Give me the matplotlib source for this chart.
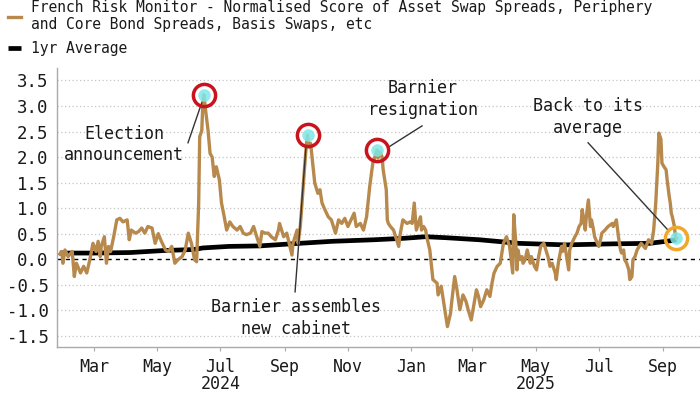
import matplotlib
matplotlib.use("Agg")
import matplotlib.pyplot as plt
import matplotlib.dates as mdates
import numpy as np
import pandas as pd

plt.rcParams['font.family'] = ['DejaVu Sans Mono', 'DejaVu Sans']

BASE = pd.Timestamp("2024-03-01")

# gold series: days after 1 Mar 2024, normalised score
risk_day = [-33, -31, -30, -28, -25, -21, -19, -17, -13, -10, -7, -4, -1, 2, 4, 6, 7, 10, 12, 14,
            16, 19, 22, 25, 28, 32, 34, 36, 40, 43, 46, 49, 52, 56, 59, 62, 65, 69, 72, 75,
            78, 81, 85, 88, 91, 94, 97, 99, 101, 102, 104, 105, 106, 108, 110, 112, 114, 116, 118, 121,
            123, 125, 128, 131, 134, 138, 141, 144, 147, 151, 154, 157, 160, 162, 165, 168, 171, 175, 178, 179,
            183, 186, 189, 191, 192, 196, 197, 199, 200, 203, 205, 206, 207, 209, 211, 213, 216, 218, 220, 223,
            226, 229, 233, 236, 239, 242, 245, 248, 251, 253, 257, 260, 263, 266, 269, 271, 273, 274, 276, 278,
            279, 281, 282, 283, 284, 286, 289, 291, 294, 295, 298, 302, 305, 307, 309, 311, 313, 315, 316, 318,
            320, 321, 324, 327, 331, 332, 335, 337, 339, 341, 344, 345, 348, 350, 353, 356, 359, 361, 364, 367,
            369, 371, 373, 376, 379, 382, 384, 386, 389, 392, 395, 398, 401, 404, 405, 407, 408, 409, 411, 413,
            414, 416, 418, 421, 422, 425, 427, 429, 431, 434, 436, 438, 440, 442, 445, 446, 448, 451, 452, 454,
            456, 458, 459, 461, 464, 466, 468, 470, 471, 473, 474, 475, 477, 479, 480, 482, 483, 487, 488, 490,
            493, 496, 500, 501, 504, 506, 508, 509, 511, 512, 514, 516, 517, 519, 520, 522, 524, 526, 528, 532,
            535, 538, 540, 542, 544, 545, 547, 548, 550, 552, 553, 555, 556, 557, 558, 560, 561, 562]
risk_val = [0.10, 0.15, -0.08, 0.18, 0.05, 0.15, -0.34, -0.08, -0.27, -0.14, -0.27, -0.01, 0.31, 0.15, 0.35, 0.05, 0.25, 0.44, -0.08, 0.25,
            0.15, 0.44, 0.77, 0.80, 0.73, 0.77, 0.38, 0.57, 0.51, 0.54, 0.61, 0.51, 0.64, 0.61, 0.31, 0.50, 0.35, 0.18, 0.15, 0.25,
            -0.08, -0.01, 0.05, 0.18, 0.51, 0.31, -0.01, -0.05, 1.10, 2.40, 2.52, 3.05, 3.22, 2.86, 2.53, 2.07, 2.00, 1.62, 1.81, 1.55,
            1.10, 0.90, 0.57, 0.73, 0.64, 0.57, 0.64, 0.51, 0.48, 0.51, 0.64, 0.44, 0.25, 0.54, 0.51, 0.51, 0.44, 0.38, 0.57, 0.70,
            0.44, 0.51, 0.25, 0.08, 0.31, 0.57, 0.31, 0.64, 0.90, 1.75, 2.27, 2.43, 2.20, 2.27, 1.88, 1.49, 1.29, 1.36, 1.10, 0.96,
            0.83, 0.77, 0.51, 0.77, 0.70, 0.80, 0.64, 0.77, 0.90, 0.64, 0.70, 0.57, 0.83, 1.42, 1.88, 2.00, 2.14, 1.98, 2.10, 2.00,
            1.75, 1.49, 1.36, 0.77, 0.70, 0.64, 0.57, 0.44, 0.25, 0.44, 0.77, 0.70, 0.73, 0.70, 1.10, 0.57, 0.70, 0.83, 0.57, 0.64,
            0.57, 0.44, 0.18, -0.40, -0.47, -0.70, -0.53, -0.80, -1.06, -1.32, -1.06, -0.86, -0.34, -0.57, -0.99, -0.70, -0.83, -0.99, -1.19, -0.83,
            -0.60, -0.73, -0.93, -0.80, -0.60, -0.73, -0.47, -0.27, -0.14, -0.08, 0.31, 0.44, 0.25, -0.27, 0.87, 0.31, -0.21, 0.18, -0.01, 0.05,
            -0.08, -0.01, 0.18, -0.08, 0.05, -0.14, -0.21, 0.05, 0.25, 0.31, 0.18, 0.05, -0.14, -0.08, -0.27, -0.40, -0.08, 0.25, 0.15, 0.31,
            0.05, -0.21, 0.18, 0.31, 0.44, 0.51, 0.64, 0.70, 0.97, 0.70, 0.57, 0.83, 1.16, 0.64, 0.77, 0.57, 0.44, 0.25, 0.31, 0.51,
            0.57, 0.64, 0.70, 0.64, 0.77, 0.44, 0.18, 0.12, 0.18, -0.01, -0.08, -0.21, -0.40, -0.34, -0.01, 0.05, 0.18, 0.25, 0.31, 0.21,
            0.38, 0.31, 0.57, 1.10, 1.88, 2.47, 2.35, 1.88, 1.81, 1.75, 1.55, 1.23, 1.10, 0.90, 0.83, 0.64, 0.44, 0.41]

# 1yr average
avg_day = [-33, 0, 35, 68, 97, 105, 130, 160, 190, 230, 270, 300, 320, 340, 372, 410, 455, 500, 536, 556, 562]
avg_val = [0.12, 0.12, 0.13, 0.17, 0.19, 0.22, 0.25, 0.26, 0.30, 0.35, 0.38, 0.41, 0.44, 0.42, 0.38, 0.31, 0.28, 0.30, 0.31, 0.36, 0.38]

# events circled on the chart
event_day = [106, 206, 273, 562]
event_ring = ['#c8141e', '#c8141e', '#c8141e', '#f0a82c']

GOLD = '#b8894c'
TXT = '#1a1a1a'


def to_dates(days):
    return BASE + pd.to_timedelta(np.array(days), unit="D")


def dnum(d):
    return mdates.date2num(BASE + pd.Timedelta(days=d))


risk_dates = to_dates(risk_day)
avg_dates = to_dates(avg_day)

fig = plt.figure(figsize=(7, 3.94), dpi=100)
ax = fig.add_axes([57 / 700, 1 - 347 / 394, 1 - 57 / 700, (347 - 67.7) / 394])

ax.plot(avg_dates, avg_val, color='black', lw=3.4, solid_capstyle='butt', zorder=3, label='1yr Average')
ax.plot(risk_dates, risk_val, color=GOLD, lw=2.4, zorder=4,
        label='French Risk Monitor - Normalised Score of Asset Swap Spreads, Periphery\nand Core Bond Spreads, Basis Swaps, etc')

ax.axhline(0, color='black', lw=1, ls=(0, (3, 3)), zorder=2)
for yv in np.arange(-1.5, 3.51, 0.5):
    if abs(yv) > 1e-9:
        ax.axhline(yv, color='#c4c4c4', lw=0.9, ls=(0, (1, 2)), zorder=1)

# circles on the events
risk_lookup = dict(zip(risk_day, risk_val))
for d, col in zip(event_day, event_ring):
    v = risk_lookup[d]
    ax.plot([dnum(d)], [v], marker='o', ms=9, color='#7fe8e8', alpha=0.85, zorder=5, mew=0)
    ax.plot([dnum(d)], [v], marker='o', ms=16, mfc='none', mec=col, mew=2.5, zorder=6)

# annotation lines and labels
line_kw = dict(color='#333333', lw=1.0, zorder=5)
ax.plot([dnum(103.9), dnum(90.7)], [3.06, 2.28], **line_kw)
ax.plot([dnum(204.5), dnum(194)], [2.20, -0.64], **line_kw)
ax.plot([dnum(284.6), dnum(316.5)], [2.20, 2.61], **line_kw)
ax.plot([dnum(476.7), dnum(553.8)], [2.28, 0.57], **line_kw)

tkw = dict(fontsize=12, color=TXT, ha='center', va='center', linespacing=1.25, zorder=7)
ax.text(dnum(28.9), 2.25, 'Election\nannouncement', **tkw)
ax.text(dnum(195), -1.15, 'Barnier assembles\nnew cabinet', **tkw)
ax.text(dnum(317.4), 3.14, 'Barnier\nresignation', **tkw)
ax.text(dnum(476.7), 2.78, 'Back to its\naverage', **tkw)

ax.set_ylim(-1.72, 3.75)
ax.set_xlim(dnum(-35.7), dnum(584.7))
ax.set_yticks(np.arange(-1.5, 3.51, 0.5))
ax.set_yticklabels([f'{v:.1f}' for v in np.arange(-1.5, 3.51, 0.5)])

ax.xaxis.set_major_locator(mdates.MonthLocator(bymonth=[1, 3, 5, 7, 9, 11]))
ax.xaxis.set_major_formatter(mdates.DateFormatter('%b'))

ax.tick_params(axis='y', length=0, pad=6, labelsize=12.5, labelcolor=TXT)
ax.tick_params(axis='x', length=3, color='#aaaaaa', pad=5, labelsize=12, labelcolor=TXT)

for s in ['top', 'right']:
    ax.spines[s].set_visible(False)
for s in ['left', 'bottom']:
    ax.spines[s].set_color('#aaaaaa')
    ax.spines[s].set_linewidth(1)

# year labels under the months
ax.text(dnum(122), -0.133, '2024', transform=ax.get_xaxis_transform(), ha='center', va='center',
        fontsize=12, color=TXT)
ax.text(mdates.date2num(pd.Timestamp('2025-05-01')), -0.133, '2025', transform=ax.get_xaxis_transform(),
        ha='center', va='center', fontsize=12, color=TXT)

h, l = ax.get_legend_handles_labels()
leg = fig.legend(h[::-1], l[::-1], loc='upper left', bbox_to_anchor=(0.012, 1.0), frameon=False,
                 fontsize=10.5, handlelength=0.85, handletextpad=0.7, labelspacing=0.6,
                 borderaxespad=0.0, borderpad=0.0)
for t in leg.get_texts():
    t.set_color(TXT)

fig.savefig('out.png', dpi=100)
